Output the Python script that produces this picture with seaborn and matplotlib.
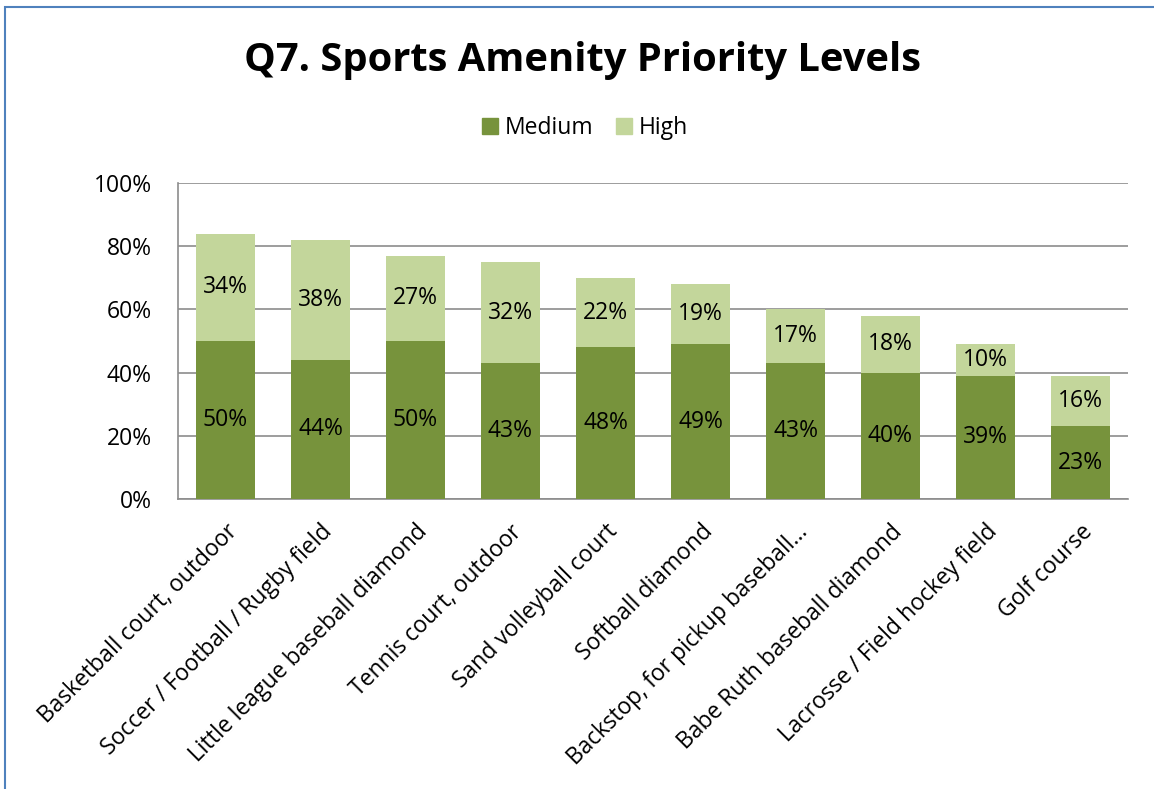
import numpy as np
import pandas as pd
import matplotlib
matplotlib.use("Agg")
import matplotlib.pyplot as plt
import matplotlib.patches as mpatches
import seaborn as sns

# ---- data ----
amenities = [
    "Basketball court, outdoor",
    "Soccer / Football / Rugby field",
    "Little league baseball diamond",
    "Tennis court, outdoor",
    "Sand volleyball court",
    "Softball diamond",
    "Backstop, for pickup baseball…",
    "Babe Ruth baseball diamond",
    "Lacrosse / Field hockey field",
    "Golf course",
]
medium = [50, 44, 50, 43, 48, 49, 43, 40, 39, 23]
high = [34, 38, 27, 32, 22, 19, 17, 18, 10, 16]

MED_COLOR = "#77933C"
HIGH_COLOR = "#C3D69B"
GRID_COLOR = "#8C8C8C"
FS = 16.5

sns.set_style("white")
plt.rcParams["font.family"] = ["Open Sans", "DejaVu Sans"]
plt.rcParams["text.color"] = "black"
plt.rcParams["xtick.color"] = "black"
plt.rcParams["ytick.color"] = "black"

df = pd.DataFrame({"amenity": amenities, "Medium": medium, "High": high})

fig = plt.figure(figsize=(11.54, 7.89), dpi=100)
ax = fig.add_axes([178 / 1154, 1 - 499 / 789, 950 / 1154, 316 / 789])

sns.barplot(data=df, x="amenity", y="Medium", color=MED_COLOR, width=0.63,
            saturation=1, linewidth=0, ax=ax, zorder=3)
sns.barplot(data=df, x="amenity", y="High", bottom=df["Medium"], color=HIGH_COLOR,
            width=0.63, saturation=1, linewidth=0, ax=ax, zorder=3)

# data labels in the middle of each segment
for i, (m, h) in enumerate(zip(medium, high)):
    ax.text(i, m / 2, f"{m}%", ha="center", va="center", fontsize=FS, color="black", zorder=4)
    ax.text(i, m + h / 2, f"{h}%", ha="center", va="center", fontsize=FS, color="black", zorder=4)

ax.set_xlim(-0.5, len(amenities) - 0.5)
ax.set_ylim(0, 100)
ax.set_yticks(np.arange(0, 101, 20))
ax.set_yticklabels([f"{v}%" for v in range(0, 101, 20)], fontsize=FS)
ax.yaxis.grid(True, color=GRID_COLOR, linewidth=1.2, zorder=0)
ax.set_axisbelow(True)
ax.tick_params(axis="y", length=0, pad=19)
ax.tick_params(axis="x", length=0, pad=15)
ax.set_xticks(range(len(amenities)))
ax.set_xticklabels(amenities, rotation=45, ha="right", rotation_mode="anchor", fontsize=FS)
ax.set_xlabel("")
ax.set_ylabel("")
for side in ["top", "right"]:
    ax.spines[side].set_visible(False)
for side in ["left", "bottom"]:
    ax.spines[side].set_color(GRID_COLOR)
    ax.spines[side].set_linewidth(1.2)

fig.text(582 / 1154, 1 - 61 / 789, "Q7. Sports Amenity Priority Levels",
         ha="center", va="center", fontsize=28.7, fontweight="bold", color="black")

handles = [mpatches.Patch(color=MED_COLOR, label="Medium"),
           mpatches.Patch(color=HIGH_COLOR, label="High")]
fig.legend(handles=handles, loc="center", bbox_to_anchor=(585 / 1154, 1 - 128 / 789),
           ncol=2, frameon=False, fontsize=FS, handlelength=0.7, handleheight=0.7,
           handletextpad=0.3, columnspacing=1.0)

# chart frame
fig.patches.append(mpatches.Rectangle((5 / 1154, -0.05), 1.2, 1 - 7 / 789 + 0.05,
                                      transform=fig.transFigure, fill=False,
                                      edgecolor="#4F81BD", linewidth=1.5))

fig.savefig("out.png", dpi=100)
